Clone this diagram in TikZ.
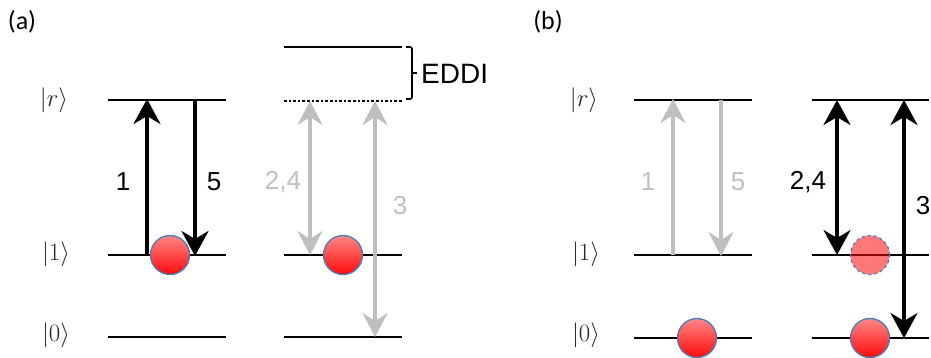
\documentclass[tikz,border=0pt]{standalone}
\usepackage{fontspec}
\setmainfont{Liberation Sans}
\newfontfamily\calib{Carlito}
\usetikzlibrary{arrows.meta}
\definecolor{lgray}{RGB}{191,191,191}
\definecolor{ballblue}{RGB}{74,126,187}
\definecolor{balltop}{RGB}{255,135,135}
\definecolor{ballbot}{RGB}{255,10,10}
\tikzset{
  level/.style={line width=2.6pt, black},
  bhead/.style={Stealth[length=25pt,width=27pt,inset=8pt]},
  blackarr/.style={line width=3.4pt, black, -{Stealth[length=25pt,width=27pt,inset=8pt]}},
  grayarr/.style={line width=3.4pt, lgray, -{Stealth[length=24pt,width=25pt,inset=8pt]}},
  blackdbl/.style={line width=3.4pt, black, {Stealth[length=25pt,width=27pt,inset=8pt]}-{Stealth[length=25pt,width=27pt,inset=8pt]}},
  graydbl/.style={line width=3.4pt, lgray, {Stealth[length=24pt,width=25pt,inset=8pt]}-{Stealth[length=24pt,width=25pt,inset=8pt]}},
  ket/.style={font=\fontsize{28}{32}\selectfont, inner sep=0pt, text=black!85},
  num/.style={font=\fontsize{26}{30}\selectfont, inner sep=0pt},
  panel/.style={font=\calib\fontsize{26}{30}\selectfont, inner sep=0pt},
  ball/.style={circle, minimum size=39pt, inner sep=0pt, draw=ballblue, line width=1.3pt, top color=balltop, bottom color=ballbot},
  ghost/.style={circle, minimum size=39pt, inner sep=0pt, draw=ballblue, line width=1.3pt, dashed, fill=ballbot, fill opacity=0.55, draw opacity=1},
}
\begin{document}
\begin{tikzpicture}[x=1pt,y=-1pt]
\useasboundingbox (0,0) rectangle (931,357);
% panel labels
\node[panel] (pa) at (22,22) {(a)};
\node[panel] (pb) at (548,22) {(b)};
% kets
\node[ket] (ra) at (54,100) {$|r\rangle$};
\node[ket] (oa) at (56,254) {$|1\rangle$};
\node[ket] (za) at (56,335) {$|0\rangle$};
\node[ket] (rb) at (584,100) {$|r\rangle$};
\node[ket] (ob) at (586,254) {$|1\rangle$};
\node[ket] (zb) at (586,335) {$|0\rangle$};
% ---------- panel (a), left ladder
\coordinate (A1r) at (108,100); \coordinate (A1rr) at (226,100);
\coordinate (A11) at (108,255); \coordinate (A11r) at (226,255);
\coordinate (A10) at (108,337); \coordinate (A10r) at (226,337);
\draw[level] (A1r) -- (A1rr);
\draw[level] (A11) -- (A11r);
\draw[level] (A10) -- (A10r);
\coordinate (u1b) at (147,255); \coordinate (u1t) at (147,99);
\coordinate (d5t) at (195,100); \coordinate (d5b) at (195,256);
\draw[blackarr] (u1b) -- (u1t);
\draw[blackarr] (d5t) -- (d5b);
\node[num] (n1a) at (123,182) {1};
\node[num] (n5a) at (214,182) {5};
\node[ball] (bA1) at (170,255) {};
% ---------- panel (a), right ladder
\coordinate (A2e) at (284,47); \coordinate (A2er) at (402,47);
\coordinate (A2r) at (284,101); \coordinate (A2rr) at (402,101);
\coordinate (A21) at (284,255); \coordinate (A21r) at (402,255);
\coordinate (A20) at (284,337); \coordinate (A20r) at (402,337);
\draw[level] (A2e) -- (A2er);
\draw[line width=2.6pt, dotted] (A2r) -- (A2rr);
\draw[level] (A21) -- (A21r);
\draw[level] (A20) -- (A20r);
\coordinate (g24t) at (310,101); \coordinate (g24b) at (310,255);
\coordinate (g3t) at (375,101); \coordinate (g3b) at (375,337);
\draw[graydbl] (g24t) -- (g24b);
\draw[graydbl] (g3t) -- (g3b);
\node[num, text=lgray] (n24a) at (283,182) {2,4};
\node[num, text=lgray] (n3a) at (400,206) {3};
\node[ball] (bA2) at (343,255) {};
% EDDI bracket
\coordinate (brT) at (406,47); \coordinate (brB) at (406,99);
\coordinate (brM) at (412,73); \coordinate (brTip) at (417,73);
\draw[line width=1.6pt, rounded corners=2pt] (brT) -| (brM) |- (brB);
\draw[line width=1.6pt] (brM) -- (brTip);
\node[font=\fontsize{28}{32}\selectfont, inner sep=0pt, anchor=west] (eddi) at (421,74) {EDDI};
% ---------- panel (b), left ladder
\coordinate (B1r) at (634,100); \coordinate (B1rr) at (752,100);
\coordinate (B11) at (634,255); \coordinate (B11r) at (752,255);
\coordinate (B10) at (634,338); \coordinate (B10r) at (752,338);
\draw[level] (B1r) -- (B1rr);
\draw[level] (B11) -- (B11r);
\draw[level] (B10) -- (B10r);
\coordinate (gu1b) at (673,255); \coordinate (gu1t) at (673,99);
\coordinate (gd5t) at (721,100); \coordinate (gd5b) at (721,256);
\draw[grayarr] (gu1b) -- (gu1t);
\draw[grayarr] (gd5t) -- (gd5b);
\node[num, text=lgray] (n1b) at (648,182) {1};
\node[num, text=lgray] (n5b) at (738,182) {5};
\node[ball] (bB1) at (697,338) {};
% ---------- panel (b), right ladder
\coordinate (B2r) at (812,100); \coordinate (B2rr) at (929,100);
\coordinate (B21) at (812,255); \coordinate (B21r) at (929,255);
\coordinate (B20) at (812,338); \coordinate (B20r) at (929,338);
\draw[level] (B2r) -- (B2rr);
\draw[level] (B21) -- (B21r);
\draw[level] (B20) -- (B20r);
\coordinate (k24t) at (837,100); \coordinate (k24b) at (837,255);
\coordinate (k3t) at (904,100); \coordinate (k3b) at (904,338);
\draw[blackdbl] (k24t) -- (k24b);
\draw[blackdbl] (k3t) -- (k3b);
\node[num] (n24b) at (808,182) {2,4};
\node[num] (n3b) at (923,206) {3};
\node[ghost] (bB2) at (870,255) {};
\node[ball] (bB3) at (870,338) {};
\end{tikzpicture}
\end{document}
